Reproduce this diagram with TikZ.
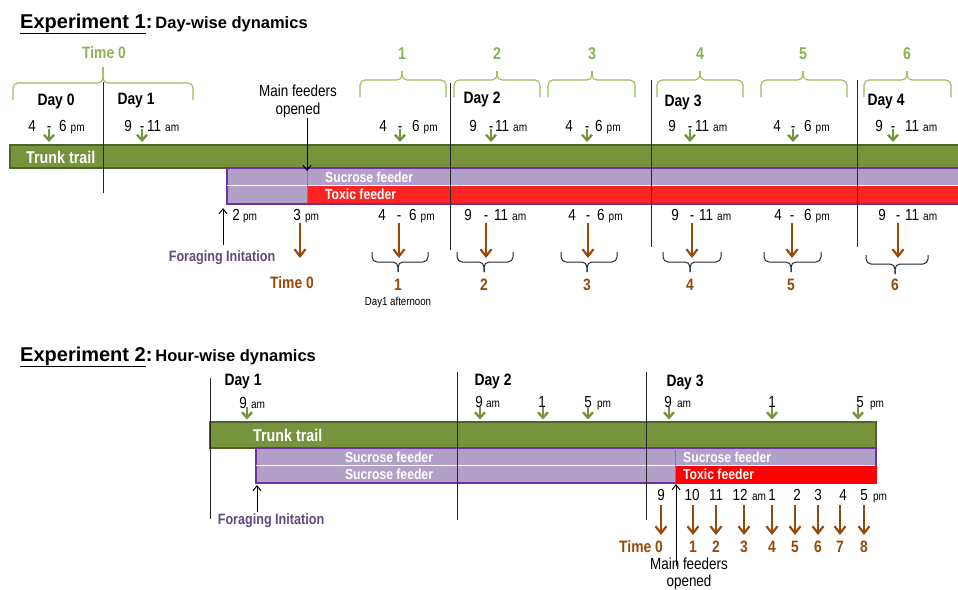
\documentclass[tikz,border=0pt]{standalone}
\usepackage{fontspec}
\setmainfont{Liberation Sans}[FakeStretch=0.84]
\newfontfamily\titlefont{Liberation Sans}
\usetikzlibrary{arrows.meta}
\definecolor{trunk}{HTML}{77933C}
\definecolor{trunkdark}{HTML}{4F6228}
\definecolor{lgreen}{HTML}{8FB052}
\definecolor{brc}{HTML}{9BBB59}
\definecolor{purfill}{HTML}{B1A0C7}
\definecolor{purline}{HTML}{7030A0}
\definecolor{toxicA}{HTML}{FF2424}
\definecolor{toxicB}{HTML}{FF0000}
\definecolor{brownc}{HTML}{984807}
\definecolor{forag}{HTML}{604A7B}
\newcommand\fs[1]{\fontsize{#1}{#1}\selectfont}
\newcommand\rnglab[5]{\makebox[0pt][r]{#1\hspace{#2pt}}-\makebox[0pt][l]{\hspace{#4pt}#3\hspace{4pt}{\fs{12}#5}}}
\newcommand\hrlab[3]{\makebox[0pt][c]{#1}\makebox[0pt][l]{\hspace{#2pt}{\fs{12}#3}}}
\newcommand\gbr[6]{\draw[gbrace] (#1,#4) -- (#1,#5) -- (#3,#5) -- (#3,#6); \draw[gbrace] (#2,#4) -- (#2,#5) -- (#3,#5) -- (#3,#6);}
\newcommand\kbr[6]{\draw[kbrace] (#1,#4) -- (#1,#5) -- (#3,#5) -- (#3,#6); \draw[kbrace] (#2,#4) -- (#2,#5) -- (#3,#5) -- (#3,#6);}
\tikzset{
  garrow/.style={draw=trunk, line width=2.4pt, -{Straight Barb[length=5.5pt,width=10pt]}},
  barrow/.style={draw=brownc, line width=2.2pt, -{Straight Barb[length=7pt,width=11pt]}},
  karrow/.style={draw=black, line width=1pt, -{Straight Barb[length=5pt,width=8pt]}},
  daysep/.style={draw=black!85, line width=0.9pt},
  gbrace/.style={draw=brc, line width=1.1pt, rounded corners=5pt},
  kbrace/.style={draw=black!85, line width=1pt, rounded corners=5pt},
  lbl/.style={inner sep=0pt, anchor=base, font=\fs{16}},
  dayl/.style={inner sep=0pt, font=\fs{16.5}\bfseries},
  gnum/.style={inner sep=0pt, text=lgreen, font=\fs{17}\bfseries},
  bnum/.style={inner sep=0pt, text=brownc, font=\fs{16.5}\bfseries},
  barlbl/.style={inner sep=0pt, text=white, font=\fs{17}\bfseries},
  feedlbl/.style={inner sep=0pt, text=white, font=\fs{14.5}\bfseries},
  foraglbl/.style={inner sep=0pt, text=forag, font=\fs{15}\bfseries},
  mainlbl/.style={inner sep=0pt, align=center, font=\fontsize{16}{18}\selectfont},
  trunkbar/.style={fill=trunk, draw=trunkdark, line width=1.2pt},
  purbar/.style={fill=purfill, draw=purline, line width=1.5pt},
}
\begin{document}
\begin{tikzpicture}[x=1pt,y=-1pt]
\useasboundingbox (0,0) rectangle (958,589);
\clip (0,0) rectangle (958,589);
% ================= Experiment 1 =================
\node[anchor=base west, inner sep=0pt] (e1title) at (20,28) {\titlefont\fs{20}\bfseries\underline{Experiment 1}:\hspace{3pt}{\fs{16.5}Day-wise dynamics}};
\node[gnum, font=\fs{16.5}\bfseries] (e1time0) at (104,53) {Time 0};
\gbr{13}{193}{103}{100}{83}{67}
\gbr{360}{446}{402}{97}{80}{71}
\gbr{454}{540}{497}{97}{80}{71}
\gbr{548}{635}{592}{97}{80}{71}
\gbr{657}{743}{700}{97}{80}{71}
\gbr{761}{847}{803}{97}{80}{71}
\gbr{864}{951}{907}{97}{80}{71}
\node[gnum] (g1) at (402,54) {1};
\node[gnum] (g2) at (497,54) {2};
\node[gnum] (g3) at (592,54) {3};
\node[gnum] (g4) at (700,54) {4};
\node[gnum] (g5) at (803,54) {5};
\node[gnum] (g6) at (907,54) {6};
\node[dayl] (d0) at (56,101) {Day 0};
\node[dayl] (d1) at (136,101) {Day 1};
\node[dayl] (d2) at (482,99) {Day 2};
\node[dayl] (d3) at (683,102) {Day 3};
\node[dayl] (d4) at (886,102) {Day 4};
\node[mainlbl] (mf1) at (298,101) {Main feeders\\opened};
% upper time labels
\node[lbl] (u0) at (49,131) {\rnglab{4}{11}{6}{8}{pm}};
\node[lbl] (u1) at (142,131) {\rnglab{9}{8}{11}{3}{am}};
\node[lbl] (u2) at (400,131) {\rnglab{4}{11}{6}{10}{pm}};
\node[lbl] (u3) at (491,131) {\rnglab{9}{12}{11}{2}{am}};
\node[lbl] (u4) at (587,131) {\rnglab{4}{12}{6}{6}{pm}};
\node[lbl] (u5) at (690,131) {\rnglab{9}{12}{11}{3}{am}};
\node[lbl] (u6) at (793,131) {\rnglab{4}{10}{6}{9}{pm}};
\node[lbl] (u7) at (893,131) {\rnglab{9}{8}{11}{10}{am}};
\foreach \x in {49,142,400,491,587,690,793,893}
  \draw[garrow] (\x,129) -- (\x,142);
% bars
\draw[trunkbar] (10,145) rectangle (962,168);
\node[barlbl, anchor=west] (tt1) at (26,157) {Trunk trail};
\draw[purbar] (227,168) rectangle (962,204);
\fill[toxicA] (307,185.5) rectangle (962,203.2);
\draw[white, line width=0.8pt] (227,185) -- (962,185);
\draw[gray, line width=0.8pt] (307,168) -- (307,203);
\node[feedlbl, anchor=west] (sf1) at (325,177) {Sucrose feeder};
\node[feedlbl, anchor=west] (tf1) at (325,194.5) {Toxic feeder};
\draw[karrow] (307,118) -- (307,171);
% day separators
\draw[daysep] (103,82) -- (103,193);
\draw[daysep] (450,83) -- (450,250);
\draw[daysep] (651,80) -- (651,247);
\draw[daysep] (857,80) -- (857,247);
% lower time labels
\node[lbl] (l2pm) at (236,220) {\hrlab{2}{7}{pm}};
\node[lbl] (l3pm) at (297,220) {\hrlab{3}{8}{pm}};
\node[lbl] (l1) at (399,220) {\rnglab{4}{11}{6}{8}{pm}};
\node[lbl] (l2) at (486,220) {\rnglab{9}{12}{11}{6}{am}};
\node[lbl] (l3) at (588,220) {\rnglab{4}{10}{6}{7}{pm}};
\node[lbl] (l4) at (692,220) {\rnglab{9}{11}{11}{5}{am}};
\node[lbl] (l5) at (792,220) {\rnglab{4}{8}{6}{10}{pm}};
\node[lbl] (l6) at (898,220) {\rnglab{9}{10}{11}{5}{am}};
\foreach \x in {300,399,486,588,692,792,898}
  \draw[barrow] (\x,223) -- (\x,258);
\kbr{372}{428}{398}{252}{262}{272}
\kbr{457}{513}{484}{252}{262}{272}
\kbr{561}{617}{587}{252}{262}{272}
\kbr{663}{721}{690}{252}{262}{272}
\kbr{764}{821}{791}{252}{262}{272}
\kbr{866}{928}{895}{255}{264}{274}
\node[bnum] (e1b0) at (292,283) {Time 0};
\node[bnum] (e1b1) at (398,285) {1};
\node[bnum] (e1b2) at (484,285) {2};
\node[bnum] (e1b3) at (587,285) {3};
\node[bnum] (e1b4) at (690,285) {4};
\node[bnum] (e1b5) at (791,285) {5};
\node[bnum] (e1b6) at (895,285) {6};
\node[inner sep=0pt, font=\fs{11.5}] (aft) at (398,303) {Day1 afternoon};
\node[foraglbl] (fi1) at (222,258) {Foraging Initation};
\draw[karrow] (223,245) -- (223,208);
% ================= Experiment 2 =================
\node[anchor=base west, inner sep=0pt] (e2title) at (20,361) {\titlefont\fs{20}\bfseries\underline{Experiment 2}:\hspace{3pt}{\fs{16.5}Hour-wise dynamics}};
\node[dayl] (e2d1) at (243,382) {Day 1};
\node[dayl] (e2d2) at (493,381) {Day 2};
\node[dayl] (e2d3) at (685,382) {Day 3};
\node[lbl] (h1) at (243,408) {\hrlab{9}{8}{am}};
\node[lbl] (h2) at (479,407) {\hrlab{9}{7}{am}};
\node[lbl] (h3) at (542,407) {1};
\node[lbl] (h4) at (588,407) {\hrlab{5}{9}{pm}};
\node[lbl] (h5) at (668,407) {\hrlab{9}{9}{am}};
\node[lbl] (h6) at (772,407) {1};
\node[lbl] (h7) at (860,407) {\hrlab{5}{10}{pm}};
\foreach \x in {247,480,543,588,669,772,858}
  \draw[garrow] (\x,407) -- (\x,419.5);
\draw[trunkbar] (210,422) rectangle (876,448);
\node[barlbl, anchor=west] (tt2) at (253,435) {Trunk trail};
\draw[purbar] (256,448) rectangle (876,483);
\fill[toxicB] (675,465.5) rectangle (876.7,483.7);
\draw[white, line width=0.8pt] (256,465) -- (875,465);
\draw[gray, line width=0.8pt] (675,448) -- (675,483);
\node[feedlbl] (sf2a) at (389,457) {Sucrose feeder};
\node[feedlbl] (sf2b) at (389,474.5) {Sucrose feeder};
\node[feedlbl, anchor=west] (sf2c) at (683,457) {Sucrose feeder};
\node[feedlbl, anchor=west] (tf2) at (683,474.5) {Toxic feeder};
\draw[daysep] (210,378) -- (210,519);
\draw[daysep] (457,372) -- (457,520);
\draw[daysep] (646,372) -- (646,520);
% hour labels
\node[lbl] (k0) at (661,500) {9};
\node[lbl] (k1) at (692,500) {10};
\node[lbl] (k2) at (716,500) {11};
\node[lbl] (k3) at (740,500) {\hrlab{12}{12}{am}};
\node[lbl] (k4) at (772,500) {1};
\node[lbl] (k5) at (797,500) {2};
\node[lbl] (k6) at (818,500) {3};
\node[lbl] (k7) at (843,500) {4};
\node[lbl] (k8) at (864,500) {\hrlab{5}{9}{pm}};
\foreach \x in {661,693,716,744,772,795,818,840,864}
  \draw[barrow] (\x,505) -- (\x,535);
\node[bnum] (e2b0) at (641,547) {Time 0};
\foreach \x/\n in {693/1,716/2,744/3,772/4,795/5,818/6,840/7,864/8}
  \node[bnum] (e2b\n) at (\x,547) {\n};
\node[mainlbl, font=\fontsize{16}{17}\selectfont] (mf2) at (689,574) {Main feeders\\opened};
\draw[karrow] (676,566) -- (676,484);
\node[foraglbl] (fi2) at (271,521) {Foraging Initation};
\draw[karrow] (257,512) -- (257,485);
\end{tikzpicture}
\end{document}
